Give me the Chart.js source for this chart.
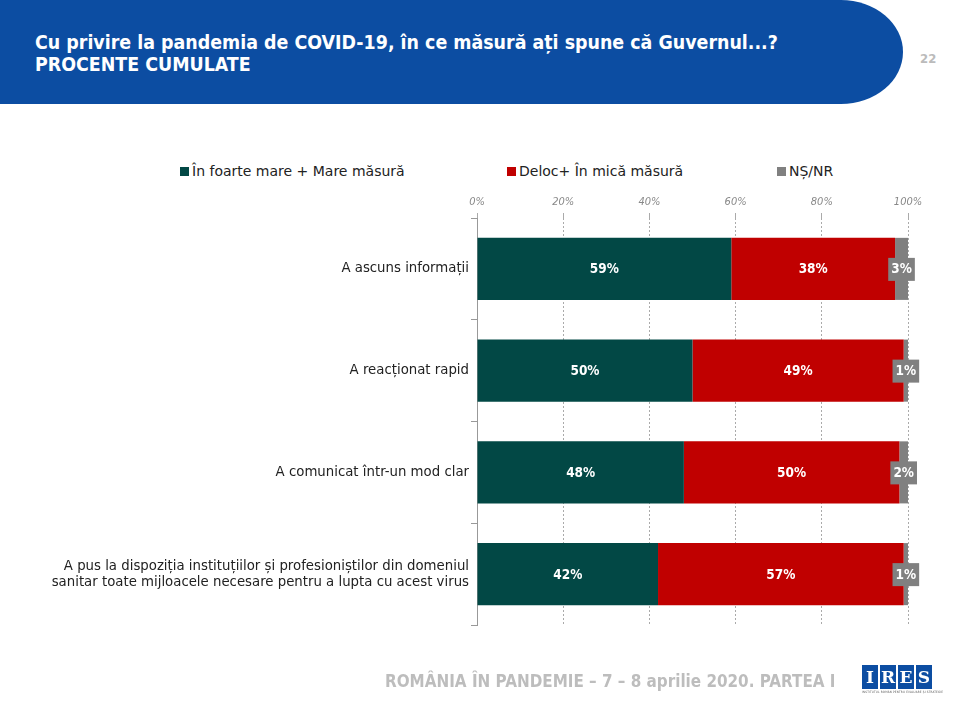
<!DOCTYPE html>
<html>
<head>
<meta charset="utf-8">
<script src="https://cdn.jsdelivr.net/npm/chart.js@4.4.0/dist/chart.umd.min.js"></script>
<style>
  body { margin: 0; width: 960px; height: 720px; background: #fff; position: relative; overflow: hidden; font-family: "DejaVu Sans Condensed", "DejaVu Sans", sans-serif; }
  #banner { position: absolute; left: 0; top: 0; width: 903px; height: 104px; background: #0c4da2; border-radius: 0 62px 62px 0 / 0 52px 52px 0; }
  #title { position: absolute; left: 35px; top: 32px; color: #fff; font-weight: bold; font-size: 19.4px; line-height: 22px; }
  #page { position: absolute; left: 920px; top: 51px; color: #bbb; font-weight: bold; font-size: 13px; }
  #legend { position: absolute; top: 163px; left: 0; width: 960px; font-family: "DejaVu Sans", sans-serif; font-size: 14px; color: #222; }
  .item { position: absolute; white-space: nowrap; }
  .box { display: inline-block; width: 9px; height: 9px; margin-right: 3px; }
  #chart-wrap { position: absolute; left: 0; top: 0; width: 960px; height: 720px; }
  #footer { position: absolute; left: 385px; top: 671px; color: #bdbdbd; font-weight: bold; font-size: 16.9px; }
  #logo { position: absolute; left: 862px; top: 665px; }
  .lt { display: inline-block; width: 16px; height: 24px; background: #0c4da2; color: #fff; font-family: "DejaVu Serif", serif; font-weight: bold; font-size: 17px; text-align: center; line-height: 24px; margin-right: 2px; }
  #logo-sub { font-size: 3px; color: #555; margin-top: 1px; letter-spacing: 0.2px; }
</style>
</head>
<body>
<div id="banner"></div>
<div id="title">Cu privire la pandemia de COVID-19, în ce măsură ați spune că Guvernul...?<br>PROCENTE CUMULATE</div>
<div id="page">22</div>
<div id="legend"></div>
<div id="chart-wrap"><canvas id="chart"></canvas></div>
<div id="footer">ROMÂNIA ÎN PANDEMIE – 7 – 8 aprilie 2020. PARTEA I</div>
<div id="logo"><span class="lt">I</span><span class="lt">R</span><span class="lt">E</span><span class="lt">S</span><div id="logo-sub">INSTITUTUL ROMÂN PENTRU EVALUARE ȘI STRATEGIE</div></div>
<script>
var categories = [
    'A ascuns informații',
    'A reacționat rapid',
    'A comunicat într-un mod clar',
    ['A pus la dispoziția instituțiilor și profesioniștilor din domeniul', 'sanitar toate mijloacele necesare pentru a lupta cu acest virus']
];
var series_names = ['În foarte mare + Mare măsură', 'Deloc+ În mică măsură', 'NȘ/NR'];
var mare = [59, 50, 48, 42];
var mica = [38, 49, 50, 57];
var nsnr = [3, 1, 2, 1];
var x_ticks = [0, 20, 40, 60, 80, 100];

var colors = ['#024845', '#c00000', '#808080'];
var legend_x = [180, 507, 777];

var legend = document.getElementById('legend');
series_names.forEach(function (name, i) {
    var d = document.createElement('div');
    d.className = 'item';
    d.style.left = legend_x[i] + 'px';
    d.innerHTML = '<span class="box" style="background:' + colors[i] + '"></span>' + name;
    legend.appendChild(d);
});

var labelPlugin = {
    id: 'segLabels',
    afterDatasetsDraw: function (chart) {
        var c = chart.ctx;
        c.save();
        c.font = 'bold 13.5px "DejaVu Sans Condensed", "DejaVu Sans", sans-serif';
        c.textAlign = 'center';
        c.textBaseline = 'middle';
        chart.data.datasets.forEach(function (ds, di) {
            var meta = chart.getDatasetMeta(di);
            meta.data.forEach(function (bar, i) {
                var txt = ds.data[i] + '%';
                var cx = (bar.x + bar.base) / 2;
                if (di == 2) {
                    var w = c.measureText(txt).width + 6;
                    c.fillStyle = colors[2];
                    c.fillRect(cx - w / 2, bar.y - 11, w, 23);
                }
                c.fillStyle = '#ffffff';
                c.fillText(txt, cx, bar.y + 1);
            });
        });
        c.restore();
    }
};

var cfg = {
    type: 'bar',
    data: {
        labels: categories,
        datasets: [
            { label: series_names[0], data: mare, backgroundColor: colors[0] },
            { label: series_names[1], data: mica, backgroundColor: colors[1] },
            { label: series_names[2], data: nsnr, backgroundColor: colors[2] }
        ]
    },
    options: {
        indexAxis: 'y',
        responsive: true,
        maintainAspectRatio: false,
        animation: false,
        datasets: { bar: { categoryPercentage: 1, barPercentage: 0.61 } },
        layout: { padding: { left: 0, right: 52, top: 190, bottom: 95 } },
        scales: {
            x: {
                position: 'top',
                stacked: true,
                min: 0,
                max: 100,
                afterBuildTicks: function (axis) {
                    axis.ticks = x_ticks.map(function (v) { return { value: v }; });
                },
                afterFit: function (axis) { axis.height = 28; },
                border: { display: false, dash: [2, 2] },
                grid: { color: '#aaaaaa', lineWidth: 1, drawTicks: true, tickLength: 5 },
                ticks: {
                    padding: 4,
                    color: '#888888',
                    font: { family: '"DejaVu Sans Condensed", "DejaVu Sans", sans-serif', size: 11, style: 'italic' },
                    callback: function (v) { return v + '%'; }
                }
            },
            y: {
                stacked: true,
                afterFit: function (axis) { axis.width = 477; },
                border: { display: true, color: '#999999' },
                grid: { offset: true, drawOnChartArea: false, drawTicks: true, tickLength: 6, color: '#999999' },
                ticks: {
                    padding: 2,
                    color: '#222222',
                    font: { family: '"DejaVu Sans", sans-serif', size: 13.3 }
                }
            }
        },
        plugins: {
            legend: { display: false },
            tooltip: { enabled: false }
        }
    },
    plugins: [labelPlugin]
};

var chart = new Chart(document.getElementById('chart'), cfg);
</script>
</body>
</html>
